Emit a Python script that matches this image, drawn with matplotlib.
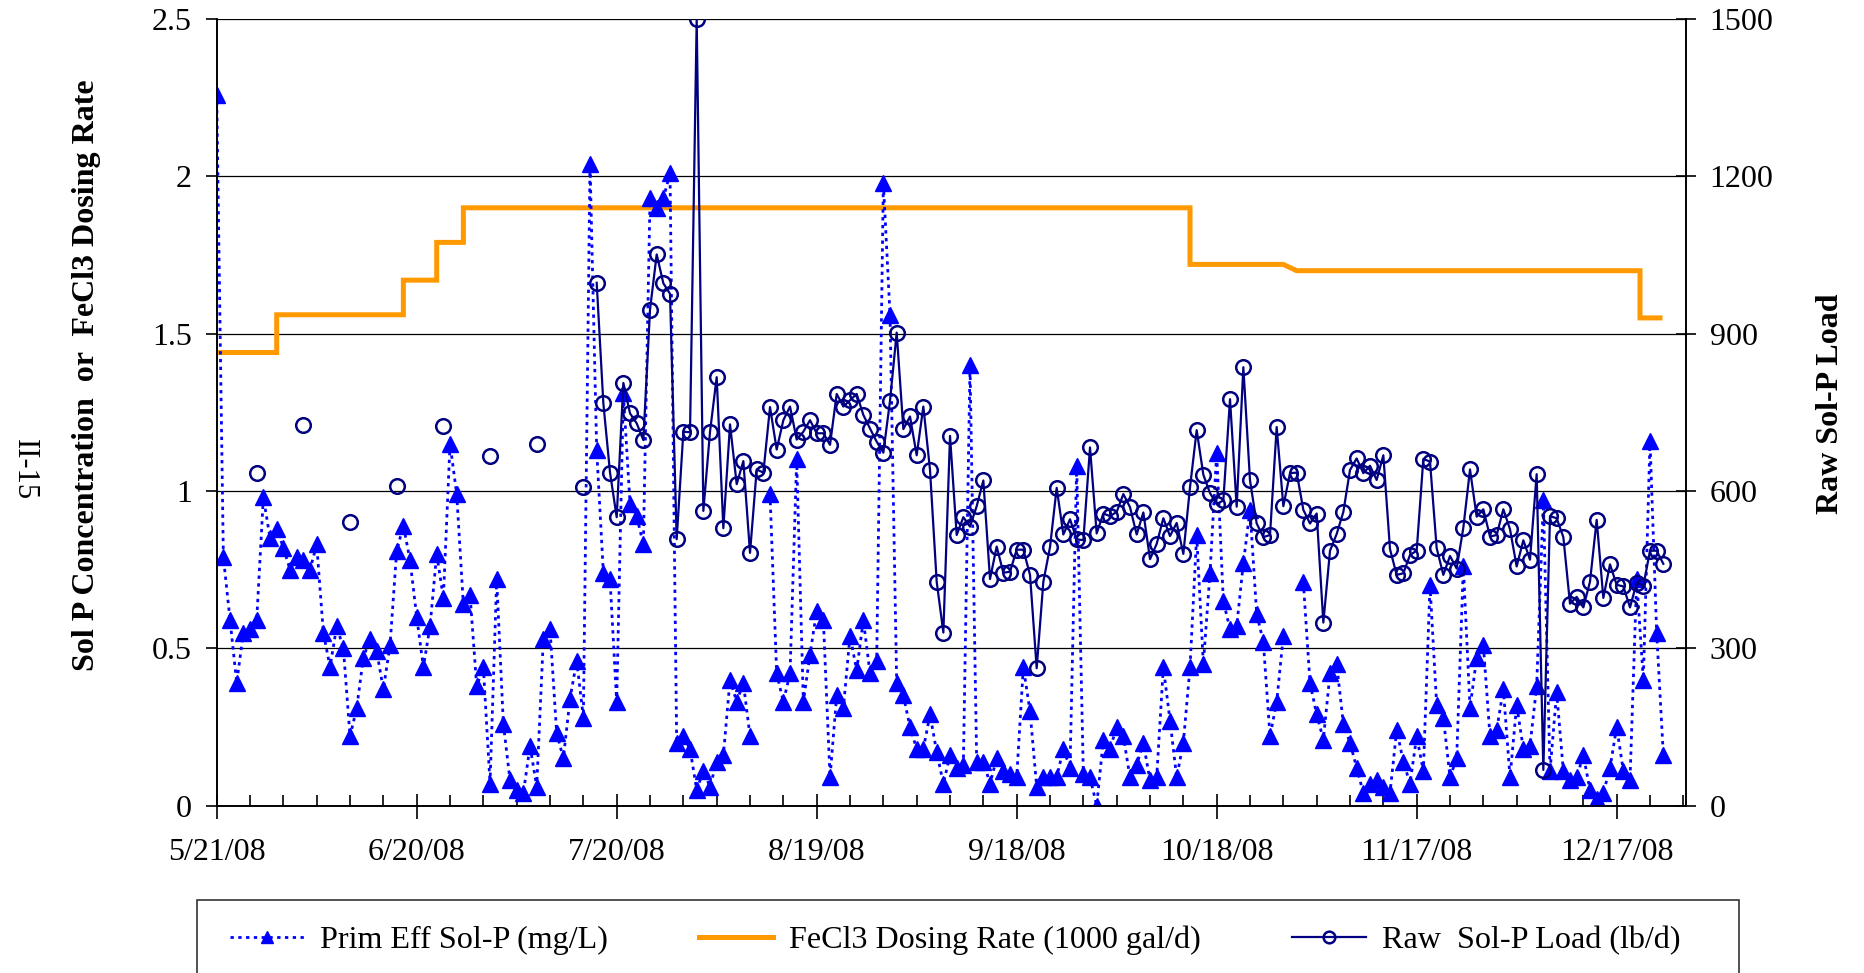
import numpy as np
import pandas as pd
import matplotlib
matplotlib.use("Agg")
import matplotlib.pyplot as plt
from matplotlib.ticker import FuncFormatter, FixedLocator
from matplotlib.patches import Rectangle

plt.rcParams['font.family'] = ['Liberation Serif', 'DejaVu Serif']

# ---------- Data (daily, starting 5/21/08) ----------

start_date = "2008-05-21"

# primary effluent soluble P, mg/L (None = no sample)
prim_eff_solp = [
    2.26, 0.79, 0.59, 0.39, 0.55, 0.56, 0.59, 0.98, 0.85, 0.88,
    0.82, 0.75, 0.79, 0.78, 0.75, 0.83, 0.55, 0.44, 0.57, 0.50,
    0.22, 0.31, 0.47, 0.53, 0.49, 0.37, 0.51, 0.81, 0.89, 0.78,
    0.60, 0.44, 0.57, 0.80, 0.66, 1.15, 0.99, 0.64, 0.67, 0.38,
    0.44, 0.07, 0.72, 0.26, 0.08, 0.05, 0.04, 0.19, 0.06, 0.53,
    0.56, 0.23, 0.15, 0.34, 0.46, 0.28, 2.04, 1.13, 0.74, 0.72,
    0.33, 1.31, 0.96, 0.92, 0.83, 1.93, 1.90, 1.93, 2.01, 0.20,
    0.22, 0.18, 0.05, 0.11, 0.06, 0.14, 0.16, 0.40, 0.33, 0.39,
    0.22, None, None, 0.99, 0.42, 0.33, 0.42, 1.10, 0.33, 0.48,
    0.62, 0.59, 0.09, 0.35, 0.31, 0.54, 0.43, 0.59, 0.42, 0.46,
    1.98, 1.56, 0.39, 0.35, 0.25, 0.18, 0.18, 0.29, 0.17, 0.07,
    0.16, 0.12, 0.13, 1.40, 0.14, 0.14, 0.07, 0.15, 0.11, 0.10,
    0.09, 0.44, 0.30, 0.06, 0.09, 0.09, 0.09, 0.18, 0.12, 1.08,
    0.10, 0.09, 0.00, 0.21, 0.18, 0.25, 0.22, 0.09, 0.13, 0.20,
    0.08, 0.09, 0.44, 0.27, 0.09, 0.20, 0.44, 0.86, 0.45, 0.74,
    1.12, 0.65, 0.56, 0.57, 0.77, 0.94, 0.61, 0.52, 0.22, 0.33,
    0.54, None, None, 0.71, 0.39, 0.29, 0.21, 0.42, 0.45, 0.26,
    0.20, 0.12, 0.04, 0.07, 0.08, 0.06, 0.04, 0.24, 0.14, 0.07,
    0.22, 0.11, 0.70, 0.32, 0.28, 0.09, 0.15, 0.76, 0.31, 0.47,
    0.51, 0.22, 0.24, 0.37, 0.09, 0.32, 0.18, 0.19, 0.38, 0.97,
    0.11, 0.36, 0.11, 0.08, 0.09, 0.16, 0.05, 0.02, 0.04, 0.12,
    0.25, 0.11, 0.08, 0.72, 0.40, 1.16, 0.55, 0.16,
]

# raw soluble P load, lb/d (weekly at first, daily from mid July)
raw_solp_load = [
    None, None, None, None, None, None, 634, None, None, None,
    None, None, None, 726, None, None, None, None, None, None,
    540, None, None, None, None, None, None, 610, None, None,
    None, None, None, None, 723, None, None, None, None, None,
    None, 667, None, None, None, None, None, None, 689, None,
    None, None, None, None, None, 607, None, 997, 767, 635,
    550, 806, 748, 729, 697, 946, 1051, 996, 976, 508,
    713, 712, 1500, 562, 713, 817, 529, 727, 613, 657,
    482, 641, 635, 760, 679, 735, 761, 698, 713, 735,
    710, 710, 688, 785, 761, 773, 785, 745, 719, 694,
    673, 772, 902, 718, 742, 668, 761, 640, 427, 330,
    705, 516, 550, 532, 571, 620, 432, 494, 444, 446,
    488, 488, 440, 262, 427, 493, 606, 517, 546, 508,
    506, 683, 519, 557, 552, 560, 594, 569, 517, 559,
    470, 499, 548, 514, 539, 480, 607, 716, 631, 596,
    575, 582, 775, 570, 836, 620, 538, 512, 516, 722,
    571, 634, 635, 564, 538, 557, 349, 486, 518, 560,
    640, 662, 634, 648, 621, 668, 489, 440, 443, 478,
    486, 661, 656, 491, 440, 476, 452, 530, 641, 551,
    565, 513, 516, 565, 527, 456, 506, 469, 632, 68,
    552, 548, 512, 385, 398, 378, 427, 545, 396, 460,
    421, 418, 378, 425, 419, 486, 486, 461,
]

# FeCl3 dosing rate, 1000 gal/d (day offset from start, rate)
dose_day = [0, 9, 9, 28, 28, 33, 33, 37, 37, 146, 146, 160, 162, 213.5, 213.5, 216.5]
dose_rate = [1.44, 1.44, 1.56, 1.56, 1.67, 1.67, 1.79, 1.79, 1.90, 1.90, 1.72, 1.72, 1.70, 1.70, 1.55, 1.55]

# ---------- Plot ----------

t0 = pd.Timestamp(start_date)
dates = pd.date_range(t0, periods=len(prim_eff_solp), freq="D")
prim = np.array([np.nan if v is None else v for v in prim_eff_solp], dtype=float)
raw = np.array([np.nan if v is None else v for v in raw_solp_load], dtype=float)
dose_dates = [t0 + pd.Timedelta(days=d) for d in dose_day]

fig = plt.figure(figsize=(18.64, 9.73), dpi=100)
ax = fig.add_axes([216.7 / 1864, 1 - 805.6 / 973, (1686 - 216.7) / 1864, (805.6 - 19) / 973])
ax2 = ax.twinx()

l_dose, = ax.plot(dose_dates, dose_rate, color="#FF9900", lw=3.6, solid_joinstyle="miter",
                  label="FeCl3 Dosing Rate (1000 gal/d)", zorder=2)
l_prim, = ax.plot(dates, prim, color="#0000FF", ls=(0, (1.2, 1.6)), lw=2.0, marker="^",
                  ms=11, mec="#0000FF", mfc="#0000FF", label="Prim Eff Sol-P (mg/L)", zorder=3)
l_raw, = ax2.plot(dates, raw, color="#000080", lw=1.6, marker="o", ms=10.5, mfc="none",
                  mec="#000080", mew=1.8, label="Raw  Sol-P Load (lb/d)", zorder=4)

ax.set_ylim(0, 2.5)
ax2.set_ylim(0, 1500)
ax.set_yticks(np.arange(0, 2.51, 0.5))
ax2.set_yticks(np.arange(0, 1501, 300))
ax.yaxis.set_major_formatter(FuncFormatter(lambda v, p: f"{v:g}"))
ax.yaxis.grid(True, color="black", lw=0.9)
ax.set_axisbelow(True)

ax.set_xlim(t0, t0 + pd.Timedelta(days=220.4))
major = pd.date_range(t0, periods=8, freq="30D")
minor = pd.date_range(t0, t0 + pd.Timedelta(days=220), freq="5D")
ax.xaxis.set_major_locator(FixedLocator(matplotlib.dates.date2num(major)))
ax.xaxis.set_minor_locator(FixedLocator(matplotlib.dates.date2num(minor)))
ax.set_xticklabels([f"{d.month}/{d.day}/{d:%y}" for d in major])

for a in (ax, ax2):
    a.spines["top"].set_visible(False)
    for s in a.spines.values():
        s.set_linewidth(1.2)
ax.tick_params(axis="x", which="major", direction="inout", length=18, width=1.2,
               labelsize=23, pad=14)
ax.tick_params(axis="x", which="minor", direction="in", length=8, width=1.2)
ax.tick_params(axis="y", direction="out", length=8, width=1.2, labelsize=23, pad=10)
ax2.tick_params(axis="y", direction="inout", length=14, width=1.2, labelsize=23, pad=10)

fig.text(87 / 1864, 1 - 375 / 973, "Sol P Concentration  or  FeCl3 Dosing Rate",
         rotation=90, fontsize=23, fontweight="bold", ha="center", va="center")
fig.text(1831 / 1864, 1 - 404 / 973, "Raw Sol-P Load", rotation=90, fontsize=23,
         fontweight="bold", ha="center", va="center")
fig.text(24 / 1864, 1 - 470 / 973, "II-15", rotation=-90, fontsize=22,
         ha="center", va="center")

# legend box runs off the bottom of the page
fig.patches.append(Rectangle((197 / 1864, -0.05), (1739 - 197) / 1864, 0.05 + 1 - 900 / 973,
                             transform=fig.transFigure, fill=False, ec="#333333", lw=1.2))
fig.legend([l_prim, l_dose, l_raw], [l.get_label() for l in (l_prim, l_dose, l_raw)],
           ncol=3, loc="center left", bbox_to_anchor=(201 / 1864, 1 - 940 / 973),
           frameon=False, fontsize=23.1, handlelength=2.3, handletextpad=0.5,
           columnspacing=2.85, markerscale=0.8)

fig.savefig("out.png", dpi=100)
